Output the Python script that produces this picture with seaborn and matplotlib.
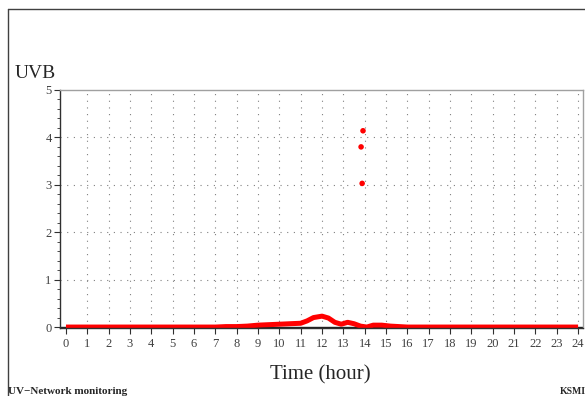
"""UVB daily time series (UV-Network monitoring)."""
import matplotlib
matplotlib.use("Agg")
import matplotlib.pyplot as plt
from matplotlib.lines import Line2D
from matplotlib.ticker import MultipleLocator
import pandas as pd
import seaborn as sns

# Data
hours = [0.0, 7.0, 7.5, 8.0, 8.5, 9.0, 9.5, 10.0, 10.5, 11.0, 11.3, 11.6,
         12.0, 12.3, 12.6, 12.9, 13.2, 13.5, 13.8, 14.1, 14.4, 14.8, 15.2,
         15.6, 16.0, 24.0]
uvb = [0.0, 0.0, 0.01, 0.01, 0.02, 0.04, 0.05, 0.06, 0.07, 0.08, 0.13, 0.20,
       0.23, 0.19, 0.10, 0.06, 0.10, 0.07, 0.02, 0.0, 0.04, 0.04, 0.02,
       0.01, 0.0, 0.0]
spike_hours = [13.92, 13.83, 13.88]
spike_uvb = [4.14, 3.80, 3.03]
hour_ticks = list(range(0, 25))
uvb_ticks = [0, 1, 2, 3, 4, 5]

df = pd.DataFrame({"hour": hours, "uvb": uvb})
spikes = pd.DataFrame({"hour": spike_hours, "uvb": spike_uvb})

sns.set_style("white")
plt.rcParams["font.family"] = ["Liberation Serif", "DejaVu Serif"]

fig = plt.figure(figsize=(5.85, 3.96), dpi=100)
ax = fig.add_axes([60 / 585, 68 / 396, 523 / 585, 238 / 396])

sns.lineplot(data=df, x="hour", y="uvb", color="#ff0000", lw=3.6, ax=ax,
             solid_capstyle="butt")
sns.scatterplot(data=spikes, x="hour", y="uvb", color="#ff0000", s=16,
                edgecolor="none", ax=ax)
ax.axhline(0, color="#202020", lw=1.0, zorder=1)

ax.set_xlim(-0.28, 24.23)
ax.set_ylim(-0.02, 5)
ax.set_xticks(hour_ticks)
ax.set_yticks(uvb_ticks)
ax.yaxis.set_minor_locator(MultipleLocator(0.2))
ax.tick_params(axis="both", which="major", direction="out", length=4,
               width=0.8, color="#303030", labelsize=9, labelcolor="#404040",
               bottom=True, left=True)
ax.tick_params(axis="y", which="minor", direction="out", length=2,
               width=0.6, color="#303030", left=True)
ax.tick_params(axis="x", pad=3)
ax.tick_params(axis="y", pad=2)

for h in hour_ticks[1:]:
    ax.axvline(h, color="#808080", lw=0.8, ls=(0, (1, 5)), zorder=0)
for v in uvb_ticks[1:-1]:
    ax.axhline(v, color="#808080", lw=0.8, ls=(0, (1, 5)), zorder=0)

ax.spines["left"].set_color("#303030")
ax.spines["bottom"].set_color("#303030")
ax.spines["top"].set_color("#a0a0a0")
ax.spines["right"].set_color("#a0a0a0")
for s in ax.spines.values():
    s.set_linewidth(1.0)

ax.set_xlabel("")
ax.set_ylabel("")
fig.text(15 / 585, 1 - 73 / 396, "UVB", fontsize=14, va="center", ha="left")
fig.text(320 / 585, 1 - 375 / 396, "Time (hour)", fontsize=15,
         va="center", ha="center")
fig.text(8 / 585, 1 - 391 / 396, "UV\u2212Network monitoring", fontsize=8,
         fontweight="bold", va="center", ha="left")
fig.text(586 / 585, 1 - 391 / 396, "KSMI", fontsize=7, fontweight="bold",
         va="center", ha="right")

# outer frame lines (left and top)
fig.add_artist(Line2D([7.5 / 585, 7.5 / 585], [0, 1 - 9 / 396],
                      transform=fig.transFigure, color="#404040", lw=1.0))
fig.add_artist(Line2D([7.5 / 585, 1], [1 - 9 / 396, 1 - 9 / 396],
                      transform=fig.transFigure, color="#404040", lw=1.0))

fig.savefig("out.png", dpi=100)
plt.close(fig)
